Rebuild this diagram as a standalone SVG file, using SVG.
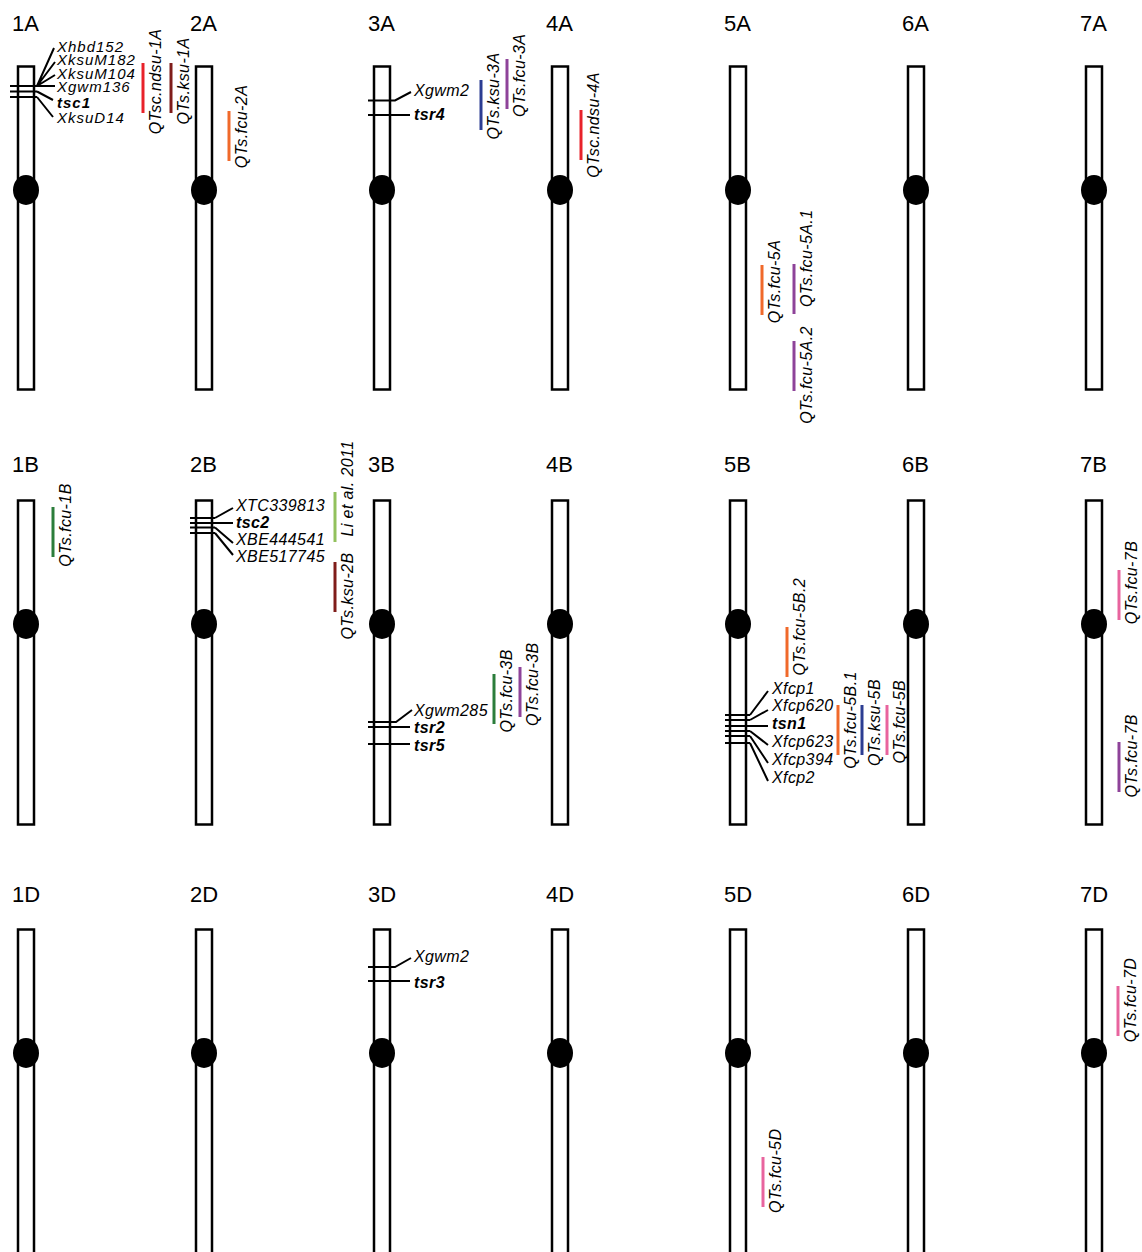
<svg xmlns="http://www.w3.org/2000/svg" width="1142" height="1252" viewBox="0 0 1142 1252">
<style>
.chr{fill:#fff;stroke:#000;stroke-width:2.5}
.cen{fill:#000}
.lbl{font-family:"Liberation Sans",Arial,sans-serif;font-size:22px;fill:#000}
.mk{font-family:"Liberation Sans",Arial,sans-serif;font-size:16px;font-style:italic;letter-spacing:0.4px;fill:#000}
.sm{font-size:15px;letter-spacing:1px}
.b{font-weight:bold}
.q{font-family:"Liberation Sans",Arial,sans-serif;font-size:16px;font-style:italic;letter-spacing:0.4px;fill:#000;text-anchor:middle}
.ln{stroke:#000;stroke-width:2;fill:none}
.bar{stroke-width:3;fill:none}
.red{stroke:#e8222a}.dred{stroke:#7f1d1a}.org{stroke:#f0692a}.blu{stroke:#2c3d92}.pur{stroke:#8e4399}.grn{stroke:#2b7d3b}.lgr{stroke:#92c15d}.pnk{stroke:#e8649e}
</style>
<rect width="1142" height="1252" fill="#fff"/>

<!-- Row A -->
<g id="chr1A"><rect class="chr" x="18" y="66.5" width="16" height="323"/><ellipse class="cen" cx="26" cy="190" rx="13" ry="15"/><text class="lbl" x="12" y="31">1A</text></g>
<g id="chr2A"><rect class="chr" x="196" y="66.5" width="16" height="323"/><ellipse class="cen" cx="204" cy="190" rx="13" ry="15"/><text class="lbl" x="190" y="31">2A</text></g>
<g id="chr3A"><rect class="chr" x="374" y="66.5" width="16" height="323"/><ellipse class="cen" cx="382" cy="190" rx="13" ry="15"/><text class="lbl" x="368" y="31">3A</text></g>
<g id="chr4A"><rect class="chr" x="552" y="66.5" width="16" height="323"/><ellipse class="cen" cx="560" cy="190" rx="13" ry="15"/><text class="lbl" x="546" y="31">4A</text></g>
<g id="chr5A"><rect class="chr" x="730" y="66.5" width="16" height="323"/><ellipse class="cen" cx="738" cy="190" rx="13" ry="15"/><text class="lbl" x="724" y="31">5A</text></g>
<g id="chr6A"><rect class="chr" x="908" y="66.5" width="16" height="323"/><ellipse class="cen" cx="916" cy="190" rx="13" ry="15"/><text class="lbl" x="902" y="31">6A</text></g>
<g id="chr7A"><rect class="chr" x="1086" y="66.5" width="16" height="323"/><ellipse class="cen" cx="1094" cy="190" rx="13" ry="15"/><text class="lbl" x="1080" y="31">7A</text></g>

<!-- Row B -->
<g id="chr1B"><rect class="chr" x="18" y="500.5" width="16" height="324"/><ellipse class="cen" cx="26" cy="624" rx="13" ry="15"/><text class="lbl" x="12" y="472">1B</text></g>
<g id="chr2B"><rect class="chr" x="196" y="500.5" width="16" height="324"/><ellipse class="cen" cx="204" cy="624" rx="13" ry="15"/><text class="lbl" x="190" y="472">2B</text></g>
<g id="chr3B"><rect class="chr" x="374" y="500.5" width="16" height="324"/><ellipse class="cen" cx="382" cy="624" rx="13" ry="15"/><text class="lbl" x="368" y="472">3B</text></g>
<g id="chr4B"><rect class="chr" x="552" y="500.5" width="16" height="324"/><ellipse class="cen" cx="560" cy="624" rx="13" ry="15"/><text class="lbl" x="546" y="472">4B</text></g>
<g id="chr5B"><rect class="chr" x="730" y="500.5" width="16" height="324"/><ellipse class="cen" cx="738" cy="624" rx="13" ry="15"/><text class="lbl" x="724" y="472">5B</text></g>
<g id="chr6B"><rect class="chr" x="908" y="500.5" width="16" height="324"/><ellipse class="cen" cx="916" cy="624" rx="13" ry="15"/><text class="lbl" x="902" y="472">6B</text></g>
<g id="chr7B"><rect class="chr" x="1086" y="500.5" width="16" height="324"/><ellipse class="cen" cx="1094" cy="624" rx="13" ry="15"/><text class="lbl" x="1080" y="472">7B</text></g>

<!-- Row D -->
<g id="chr1D"><rect class="chr" x="18" y="929.5" width="16" height="340"/><ellipse class="cen" cx="26" cy="1053" rx="13" ry="15"/><text class="lbl" x="12" y="902">1D</text></g>
<g id="chr2D"><rect class="chr" x="196" y="929.5" width="16" height="340"/><ellipse class="cen" cx="204" cy="1053" rx="13" ry="15"/><text class="lbl" x="190" y="902">2D</text></g>
<g id="chr3D"><rect class="chr" x="374" y="929.5" width="16" height="340"/><ellipse class="cen" cx="382" cy="1053" rx="13" ry="15"/><text class="lbl" x="368" y="902">3D</text></g>
<g id="chr4D"><rect class="chr" x="552" y="929.5" width="16" height="340"/><ellipse class="cen" cx="560" cy="1053" rx="13" ry="15"/><text class="lbl" x="546" y="902">4D</text></g>
<g id="chr5D"><rect class="chr" x="730" y="929.5" width="16" height="340"/><ellipse class="cen" cx="738" cy="1053" rx="13" ry="15"/><text class="lbl" x="724" y="902">5D</text></g>
<g id="chr6D"><rect class="chr" x="908" y="929.5" width="16" height="340"/><ellipse class="cen" cx="916" cy="1053" rx="13" ry="15"/><text class="lbl" x="902" y="902">6D</text></g>
<g id="chr7D"><rect class="chr" x="1086" y="929.5" width="16" height="340"/><ellipse class="cen" cx="1094" cy="1053" rx="13" ry="15"/><text class="lbl" x="1080" y="902">7D</text></g>

<!-- marker connectors -->
<g id="connectors" class="ln">
<!-- 1A -->
<path d="M10 86H37M10 91.5H37M10 97H37"/>
<path d="M37 86L54 48M37 86L55 62M37 86L55 75M37 86H55M37 91.5L53 100M37 97L53 117"/>
<!-- 3A -->
<path d="M368 100.5H395L411 92M368 115H410"/>
<!-- 2B -->
<path d="M190 518H215M190 523H215M190 527.5H215M190 533H215"/>
<path d="M215 518L233 508M215 523H233M215 527.5L233 543M215 533L233 555"/>
<!-- 3B -->
<path d="M368 722H396L412 710M368 727H410M368 744H410"/>
<!-- 5B -->
<path d="M725 715H750M725 720H750M725 726H750M725 731H750M725 736H750M725 743H750"/>
<path d="M750 715L768 691M750 720L768 710M750 726H768M750 731L768 745M750 736L768 763M750 743L768 781"/>
<!-- 3D -->
<path d="M368 967H395L411 958M368 981H410"/>
</g>

<!-- marker labels -->
<g id="markers1A">
<text class="mk sm" x="57" y="51.5">Xhbd152</text>
<text class="mk sm" x="57" y="64.5">XksuM182</text>
<text class="mk sm" x="57" y="78.5">XksuM104</text>
<text class="mk sm" x="57" y="92">Xgwm136</text>
<text class="mk sm b" x="57" y="107.5">tsc1</text>
<text class="mk sm" x="57" y="123">XksuD14</text>
</g>
<g id="markers3A">
<text class="mk" x="414" y="96">Xgwm2</text>
<text class="mk b" x="414" y="120">tsr4</text>
</g>
<g id="markers2B">
<text class="mk" x="236" y="511">XTC339813</text>
<text class="mk b" x="236" y="527.5">tsc2</text>
<text class="mk" x="236" y="545">XBE444541</text>
<text class="mk" x="236" y="561.5">XBE517745</text>
</g>
<g id="markers3B">
<text class="mk" x="414" y="716">Xgwm285</text>
<text class="mk b" x="414" y="733">tsr2</text>
<text class="mk b" x="414" y="751">tsr5</text>
</g>
<g id="markers5B">
<text class="mk" x="772" y="693.5">Xfcp1</text>
<text class="mk" x="772" y="711">Xfcp620</text>
<text class="mk b" x="772" y="729">tsn1</text>
<text class="mk" x="772" y="746.5">Xfcp623</text>
<text class="mk" x="772" y="765">Xfcp394</text>
<text class="mk" x="772" y="782.5">Xfcp2</text>
</g>
<g id="markers3D">
<text class="mk" x="414" y="962">Xgwm2</text>
<text class="mk b" x="414" y="987.5">tsr3</text>
</g>

<!-- QTL bars and labels -->
<g id="qtl-QTsc.ndsu-1A"><path class="bar red" d="M143 63V113"/><text class="q" transform="translate(161 81.5) rotate(-90)">QTsc.ndsu-1A</text></g>
<g id="qtl-QTs.ksu-1A"><path class="bar dred" d="M171 63V113"/><text class="q" transform="translate(189 81) rotate(-90)">QTs.ksu-1A</text></g>
<g id="qtl-QTs.fcu-2A"><path class="bar org" d="M229 111V161"/><text class="q" transform="translate(247 126.5) rotate(-90)">QTs.fcu-2A</text></g>
<g id="qtl-QTs.ksu-3A"><path class="bar blu" d="M481 80V130"/><text class="q" transform="translate(499 96) rotate(-90)">QTs.ksu-3A</text></g>
<g id="qtl-QTs.fcu-3A"><path class="bar pur" d="M507 59V109"/><text class="q" transform="translate(525 75.3) rotate(-90)">QTs.fcu-3A</text></g>
<g id="qtl-QTsc.ndsu-4A"><path class="bar red" d="M581 110V160"/><text class="q" transform="translate(599 125) rotate(-90)">QTsc.ndsu-4A</text></g>
<g id="qtl-QTs.fcu-5A"><path class="bar org" d="M762 265V315"/><text class="q" transform="translate(780 281.5) rotate(-90)">QTs.fcu-5A</text></g>
<g id="qtl-QTs.fcu-5A.1"><path class="bar pur" d="M794 264V314"/><text class="q" transform="translate(812 258.3) rotate(-90)">QTs.fcu-5A.1</text></g>
<g id="qtl-QTs.fcu-5A.2"><path class="bar pur" d="M794 341V391"/><text class="q" transform="translate(812 375) rotate(-90)">QTs.fcu-5A.2</text></g>
<g id="qtl-QTs.fcu-1B"><path class="bar grn" d="M53 507V557"/><text class="q" transform="translate(71 525) rotate(-90)">QTs.fcu-1B</text></g>
<g id="qtl-Li2011"><path class="bar lgr" d="M335 492V542"/><text class="q" transform="translate(353 488.5) rotate(-90)">Li et al. 2011</text></g>
<g id="qtl-QTs.ksu-2B"><path class="bar dred" d="M335 562V612"/><text class="q" transform="translate(353 596) rotate(-90)">QTs.ksu-2B</text></g>
<g id="qtl-QTs.fcu-3B-a"><path class="bar grn" d="M494 674V724"/><text class="q" transform="translate(512 690.8) rotate(-90)">QTs.fcu-3B</text></g>
<g id="qtl-QTs.fcu-3B-b"><path class="bar pur" d="M520 667V717"/><text class="q" transform="translate(538 684.2) rotate(-90)">QTs.fcu-3B</text></g>
<g id="qtl-QTs.fcu-5B.2"><path class="bar org" d="M787 627V677"/><text class="q" transform="translate(805 626.7) rotate(-90)">QTs.fcu-5B.2</text></g>
<g id="qtl-QTs.fcu-5B.1"><path class="bar org" d="M838 705V755"/><text class="q" transform="translate(856 720) rotate(-90)">QTs.fcu-5B.1</text></g>
<g id="qtl-QTs.ksu-5B"><path class="bar blu" d="M862 705V755"/><text class="q" transform="translate(880 722.5) rotate(-90)">QTs.ksu-5B</text></g>
<g id="qtl-QTs.fcu-5B"><path class="bar pnk" d="M887 705V755"/><text class="q" transform="translate(905 721.7) rotate(-90)">QTs.fcu-5B</text></g>
<g id="qtl-QTs.fcu-7B-a"><path class="bar pnk" d="M1119 570V620"/><text class="q" transform="translate(1137 582.5) rotate(-90)">QTs.fcu-7B</text></g>
<g id="qtl-QTs.fcu-7B-b"><path class="bar pur" d="M1119 742V792"/><text class="q" transform="translate(1137 755.8) rotate(-90)">QTs.fcu-7B</text></g>
<g id="qtl-QTs.fcu-5D"><path class="bar pnk" d="M763 1157V1207"/><text class="q" transform="translate(781 1170.8) rotate(-90)">QTs.fcu-5D</text></g>
<g id="qtl-QTs.fcu-7D"><path class="bar pnk" d="M1118 986V1036"/><text class="q" transform="translate(1136 1000) rotate(-90)">QTs.fcu-7D</text></g>
</svg>
